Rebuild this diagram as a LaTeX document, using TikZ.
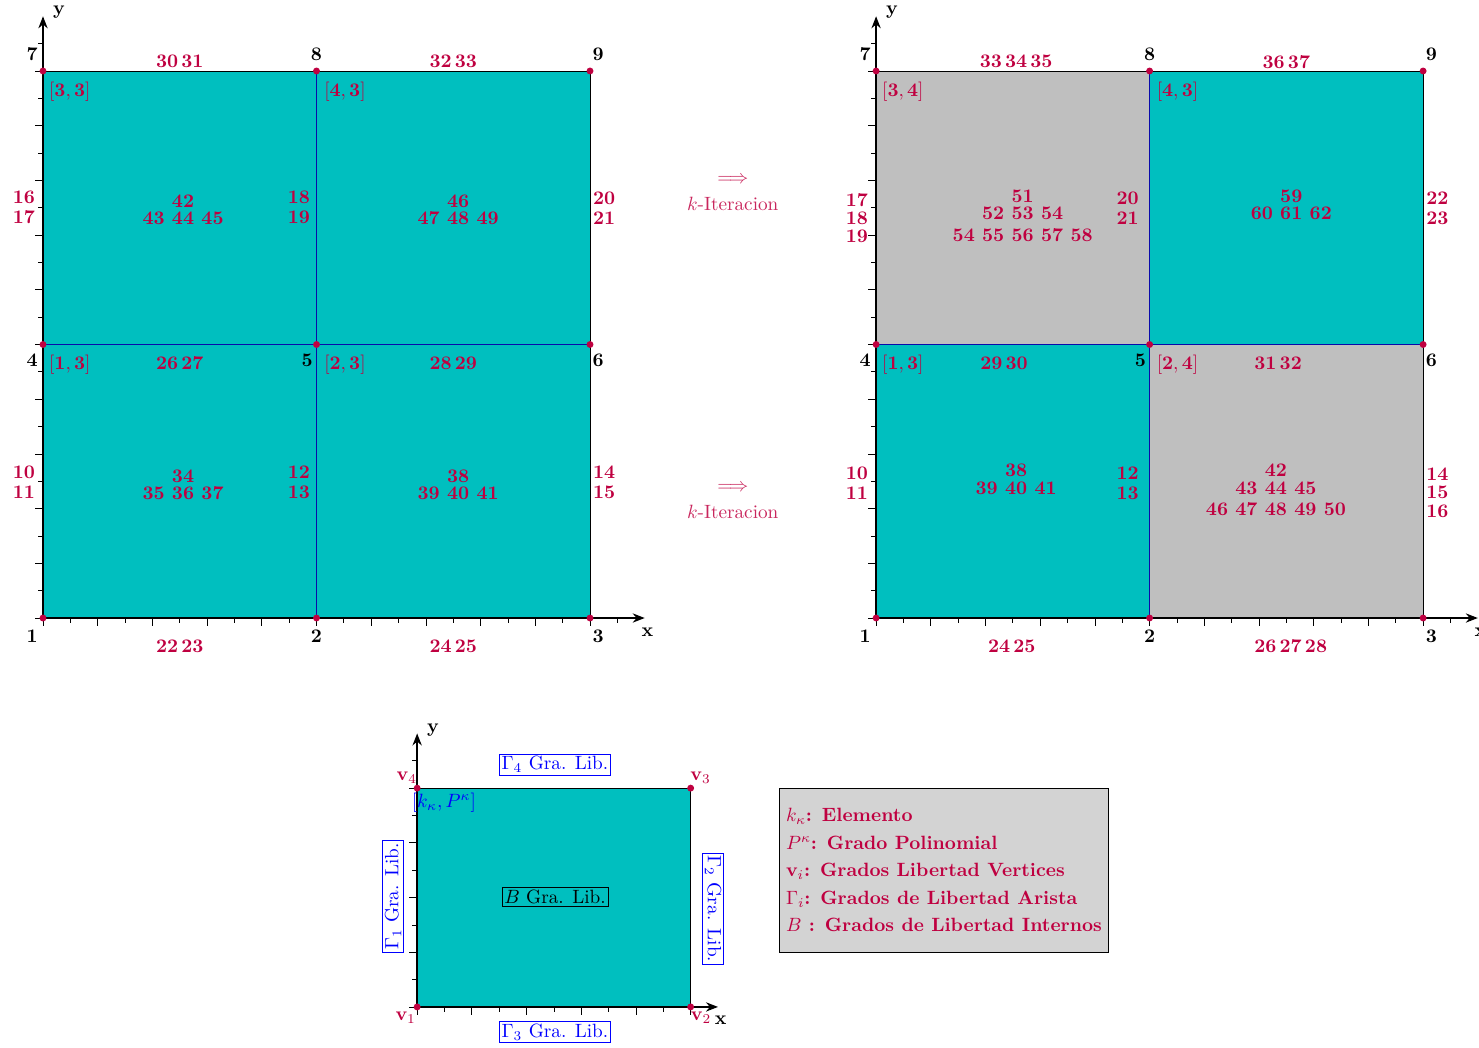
\documentclass[tikz,border=0pt]{standalone}
\usepackage{amsmath,amssymb}
\usetikzlibrary{arrows.meta,positioning}

\definecolor{celda}{RGB}{0,191,191}
\definecolor{celdagris}{RGB}{191,191,191}
\definecolor{leyenda}{RGB}{211,211,211}
\definecolor{azul}{RGB}{10,10,170}

\begin{document}
\begin{tikzpicture}
\tikzstyle{dof}=[text=purple, font=\bfseries, align=center, inner sep=1pt]
\tikzstyle{vdot}=[circle, fill=purple, inner sep=0pt, minimum size=3.6pt]
\tikzstyle{vnum}=[font=\bfseries, inner sep=1pt]
\tikzstyle{vlab}=[text=purple, inner sep=1pt]
\tikzstyle{elem}=[text=purple, inner sep=1pt]
\tikzstyle{iter}=[text=purple!85]
\tikzstyle{marca}=[line width=0.4pt]
\tikzstyle{eje}=[-{Stealth[length=2.2mm,width=1.7mm]}, line width=0.7pt]
\tikzstyle{interior}=[azul, line width=0.7pt]
\tikzstyle{borde}=[line width=0.5pt]
\tikzstyle{gbox}=[draw=blue, text=blue, inner sep=1.2pt]

\useasboundingbox (-0.786,-7.843) rectangle (26.252,11.298);

%%% malla antes de la iteracion
\coordinate (L1) at (0,0);  \coordinate (L2) at (5,0);  \coordinate (L3) at (10,0);
\coordinate (L4) at (0,5);  \coordinate (L5) at (5,5);  \coordinate (L6) at (10,5);
\coordinate (L7) at (0,10); \coordinate (L8) at (5,10); \coordinate (L9) at (10,10);
\coordinate (Lx) at (11,0); \coordinate (Ly) at (0,11);
\fill[celda] (L1) rectangle (L9);
\foreach \t in {0,0.5,...,10.5}{
  \draw[marca] (\t,0) -- (\t,-0.09);
  \draw[marca] (0,\t) -- (-0.09,\t);
}
\foreach \t in {0,...,10}{
  \draw[marca] (\t,0) -- (\t,-0.15);
  \draw[marca] (0,\t) -- (-0.15,\t);
}
\draw[interior] (L4) -- (L6);
\draw[interior] (L2) -- (L8);
\draw[borde] (L7) -- (L9) -- (L3);
\draw[eje] (L1) -- (Lx);
\draw[eje] (L1) -- (Ly);
\node[vnum] (Lxl) at (11.05,-0.26) {x};
\node[vnum] (Lyl) at (0.29,11.08) {y};
\foreach \v in {1,...,9} \node[vdot] (Ld\v) at (L\v) {};
\node[vnum] (Ln1) at (-0.2,-0.33) {1};
\node[vnum] (Ln2) at (5.0,-0.33) {2};
\node[vnum] (Ln3) at (10.15,-0.33) {3};
\node[vnum] (Ln4) at (-0.2,4.71) {4};
\node[vnum] (Ln5) at (4.83,4.71) {5};
\node[vnum] (Ln6) at (10.15,4.71) {6};
\node[vnum] (Ln7) at (-0.2,10.31) {7};
\node[vnum] (Ln8) at (5.0,10.31) {8};
\node[vnum] (Ln9) at (10.15,10.31) {9};
% elementos
\node[elem] (Lk1) at (0.49,4.63) {$[\mathbf{1},\mathbf{3}]$};
\node[elem] (Lk2) at (5.52,4.63) {$[\mathbf{2},\mathbf{3}]$};
\node[elem] (Lk3) at (0.49,9.63) {$[\mathbf{3},\mathbf{3}]$};
\node[elem] (Lk4) at (5.52,9.63) {$[\mathbf{4},\mathbf{3}]$};
% grados de libertad
\node[dof] (La1) at (2.5,-0.52) {22\,23};
\node[dof] (La2) at (7.5,-0.52) {24\,25};
\node[dof] (La3) at (2.5,4.66) {26\,27};
\node[dof] (La4) at (7.5,4.66) {28\,29};
\node[dof] (La5) at (2.5,10.17) {30\,31};
\node[dof] (La6) at (7.5,10.17) {32\,33};
\node[dof] (Lb1) at (-0.35,2.48) {10\\[-1.6pt]11};
\node[dof] (Lb2) at (4.68,2.48) {12\\[-1.6pt]13};
\node[dof] (Lb3) at (10.26,2.48) {14\\[-1.6pt]15};
\node[dof] (Lb4) at (-0.35,7.5) {16\\[-1.6pt]17};
\node[dof] (Lb5) at (4.68,7.5) {18\\[-1.6pt]19};
\node[dof] (Lb6) at (10.26,7.5) {20\\[-1.6pt]21};
\node[dof] (Lc1) at (2.56,2.44) {34\\[-3.1pt]35 36 37};
\node[dof] (Lc2) at (7.59,2.44) {38\\[-3.1pt]39 40 41};
\node[dof] (Lc3) at (2.56,7.47) {42\\[-3.1pt]43 44 45};
\node[dof] (Lc4) at (7.59,7.47) {46\\[-3.1pt]47 48 49};

%%% flechas de iteracion
\node[iter] (it1) at (12.61,8.0) {$\Longrightarrow$};
\node[iter, below=0pt of it1] (it1t) {$k$-Iteracion};
\node[iter] (it2) at (12.61,2.37) {$\Longrightarrow$};
\node[iter, below=0pt of it2] (it2t) {$k$-Iteracion};

%%% malla despues de la iteracion
\begin{scope}[xshift=15.23cm]
\coordinate (R1) at (0,0);  \coordinate (R2) at (5,0);  \coordinate (R3) at (10,0);
\coordinate (R4) at (0,5);  \coordinate (R5) at (5,5);  \coordinate (R6) at (10,5);
\coordinate (R7) at (0,10); \coordinate (R8) at (5,10); \coordinate (R9) at (10,10);
\coordinate (Rx) at (11,0); \coordinate (Ry) at (0,11);
\fill[celda] (R1) rectangle (R5);
\fill[celda] (R5) rectangle (R9);
\fill[celdagris] (R4) rectangle (R8);
\fill[celdagris] (R2) rectangle (R6);
\foreach \t in {0,0.5,...,10.5}{
  \draw[marca] (\t,0) -- (\t,-0.09);
  \draw[marca] (0,\t) -- (-0.09,\t);
}
\foreach \t in {0,...,10}{
  \draw[marca] (\t,0) -- (\t,-0.15);
  \draw[marca] (0,\t) -- (-0.15,\t);
}
\draw[interior] (R4) -- (R6);
\draw[interior] (R2) -- (R8);
\draw[borde] (R7) -- (R9) -- (R3);
\draw[eje] (R1) -- (Rx);
\draw[eje] (R1) -- (Ry);
\node[vnum] (Rxl) at (11.05,-0.26) {x};
\node[vnum] (Ryl) at (0.29,11.08) {y};
\foreach \v in {1,...,9} \node[vdot] (Rd\v) at (R\v) {};
\node[vnum] (Rn1) at (-0.2,-0.33) {1};
\node[vnum] (Rn2) at (5.0,-0.33) {2};
\node[vnum] (Rn3) at (10.15,-0.33) {3};
\node[vnum] (Rn4) at (-0.2,4.71) {4};
\node[vnum] (Rn5) at (4.83,4.71) {5};
\node[vnum] (Rn6) at (10.15,4.71) {6};
\node[vnum] (Rn7) at (-0.2,10.31) {7};
\node[vnum] (Rn8) at (5.0,10.31) {8};
\node[vnum] (Rn9) at (10.15,10.31) {9};
% elementos
\node[elem] (Rk1) at (0.49,4.63) {$[\mathbf{1},\mathbf{3}]$};
\node[elem] (Rk2) at (5.51,4.63) {$[\mathbf{2},\mathbf{4}]$};
\node[elem] (Rk3) at (0.49,9.63) {$[\mathbf{3},\mathbf{4}]$};
\node[elem] (Rk4) at (5.51,9.63) {$[\mathbf{4},\mathbf{3}]$};
% grados de libertad
\node[dof] (Ra1) at (2.48,-0.52) {24\,25};
\node[dof] (Ra2) at (7.58,-0.52) {26\,27\,28};
\node[dof] (Ra3) at (2.34,4.66) {29\,30};
\node[dof] (Ra4) at (7.35,4.66) {31\,32};
\node[dof] (Ra5) at (2.56,10.17) {33\,34\,35};
\node[dof] (Ra6) at (7.5,10.17) {36\,37};
\node[dof] (Rb1) at (-0.35,2.47) {10\\[-1.6pt]11};
\node[dof] (Rb2) at (4.6,2.47) {12\\[-1.6pt]13};
\node[dof] (Rb3) at (10.26,2.29) {14\\[-2.4pt]15\\[-2.4pt]16};
\node[dof] (Rb4) at (-0.35,7.31) {17\\[-2.4pt]18\\[-2.4pt]19};
\node[dof] (Rb5) at (4.6,7.49) {20\\[-1.6pt]21};
\node[dof] (Rb6) at (10.26,7.49) {22\\[-1.6pt]23};
\node[dof] (Rc1) at (2.56,2.53) {38\\[-2.8pt]39 40 41};
\node[dof] (Rc2) at (7.31,2.34) {42\\[-2.8pt]43 44 45\\[-1pt]46 47 48 49 50};
\node[dof] (Rc3) at (2.68,7.35) {51\\[-3.5pt]52 53 54\\[-0.5pt]54 55 56 57 58};
\node[dof] (Rc4) at (7.59,7.55) {59\\[-3.3pt]60 61 62};
\end{scope}

%%% elemento de referencia
\begin{scope}[shift={(6.84,-7.11)}]
\coordinate (B1) at (0,0); \coordinate (B2) at (5,0);
\coordinate (B3) at (5,4); \coordinate (B4) at (0,4);
\coordinate (Bx) at (5.5,0); \coordinate (By) at (0,5);
\fill[celda] (B1) rectangle (B3);
\foreach \t in {0,0.5,...,5}  \draw[marca] (\t,0) -- (\t,-0.09);
\foreach \t in {0,0.5,...,4.5} \draw[marca] (0,\t) -- (-0.09,\t);
\foreach \t in {0,...,5} \draw[marca] (\t,0) -- (\t,-0.15);
\foreach \t in {0,...,4} \draw[marca] (0,\t) -- (-0.15,\t);
\draw[borde] (B4) -- (B3) -- (B2);
\draw[eje] (B1) -- (Bx);
\draw[eje] (B1) -- (By);
\node[vnum] (Bxl) at (5.55,-0.24) {x};
\node[vnum] (Byl) at (0.29,5.06) {y};
\foreach \v in {1,...,4} \node[vdot] (Bd\v) at (B\v) {};
\node[vlab] (v1) at (-0.21,-0.2) {$\mathbf{v}_1$};
\node[vlab] (v2) at (5.19,-0.2) {$\mathbf{v}_2$};
\node[vlab] (v3) at (5.18,4.19) {$\mathbf{v}_3$};
\node[vlab] (v4) at (-0.19,4.19) {$\mathbf{v}_4$};
\node[text=blue, inner sep=0.5pt] (kp) at (0.49,3.74) {$[k_\kappa,P^\kappa]$};
\node[gbox] (g4) at (2.52,4.43) {$\Gamma_4$ Gra. Lib.};
\node[gbox] (g3) at (2.52,-0.46) {$\Gamma_3$ Gra. Lib.};
\node[gbox, rotate=90] (g1) at (-0.44,2.02) {$\Gamma_1$ Gra. Lib.};
\node[gbox, rotate=-90] (g2) at (5.41,1.79) {$\Gamma_2$ Gra. Lib.};
\node[draw, inner sep=1.2pt] (bint) at (2.52,2.01) {$B$ Gra. Lib.};
\end{scope}

%%% leyenda
\node[draw, fill=leyenda, text=purple, align=left, line width=0.5pt,
  minimum width=5.96cm, minimum height=3cm] (ley) at (16.47,-4.61)
  {$k_\kappa$\textbf{: Elemento}\\[2.3pt]
   $P^\kappa$\textbf{: Grado Polinomial}\\[2.3pt]
   $\mathbf{v}_i$\textbf{: Grados Libertad Vertices}\\[2.3pt]
   $\Gamma_i$\textbf{: Grados de Libertad Arista}\\[2.3pt]
   $B$\textbf{ : Grados de Libertad Internos}};
\end{tikzpicture}
\end{document}
